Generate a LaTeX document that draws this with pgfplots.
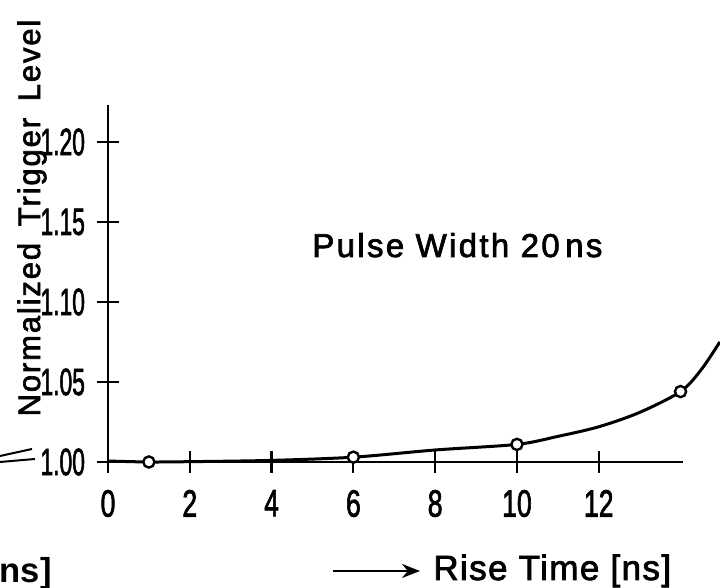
\documentclass[border=0pt]{standalone}
\usepackage{fontspec}
\setmainfont{Liberation Sans}
\usepackage{graphicx}
\usepackage{pgfplots}
\pgfplotsset{compat=1.18}
\usetikzlibrary{arrows.meta}
\newfontfamily\widefont[LetterSpace=7,FakeBold=2.2]{Liberation Sans}
\newfontfamily\widelfont[LetterSpace=6,WordSpace=1.6,FakeBold=2.2]{Liberation Sans}
\newfontfamily\midfont[LetterSpace=4,FakeBold=2.2]{Liberation Sans}
\newfontfamily\tickfont[FakeBold=2.2]{Liberation Sans}
\begin{document}
\begin{tikzpicture}
\begin{axis}[
  scale only axis, width=287.5pt, height=178.4pt,
  at={(54pt,63pt)}, anchor=south west,
  xmin=0, xmax=14.06, ymin=1.0, ymax=1.223,
  axis lines=left, axis line style={-, line width=1.2pt},
  tick align=center, major tick length=11pt,
  tick style={line width=1.1pt, black},
  xtick={0,2,4,6,8,10,12}, ytick={1.00,1.05,1.10,1.15,1.20},
  /pgf/number format/assume math mode=true,
  xticklabel={\scalebox{0.7}[1]{\pgfmathprintnumber{\tick}}},
  yticklabel={\scalebox{0.6}[1]{\pgfmathprintnumber[fixed,fixed zerofill,precision=2]{\tick}}},
  tick label style={font=\tickfont\fontsize{19}{19}\selectfont},
  xticklabel style={yshift=-5pt},
  yticklabel style={xshift=-2.5pt},
  clip=false,
]
\addplot[line width=1.5pt, smooth, tension=0.5] coordinates {
  (0,1.0006) (1,1.0) (2,1.0002) (4,1.001) (6,1.003) (8,1.0075) (10,1.011)
  (11,1.016) (12,1.022) (13,1.031) (14,1.044) (14.5,1.0575) (14.96,1.075)};
\addplot[only marks, mark=*, mark size=2.8pt,
  mark options={fill=white, draw=black, line width=1.2pt}] coordinates {
  (1,1.0) (6,1.003) (10,1.011) (14,1.044)};
\end{axis}
\node[anchor=base west, inner sep=0, font=\widefont\fontsize{16.5}{17}\selectfont] at (156pt,165.5pt) {Pulse Width 20\,ns};
\node[rotate=90, anchor=base, inner sep=0, font=\widelfont\fontsize{15.5}{17}\selectfont] at (20pt,185pt) {Normalized Trigger Level};
\node[anchor=base west, inner sep=0, font=\midfont\fontsize{17.5}{18}\selectfont] at (216.5pt,4pt) {Rise Time [ns]};
\draw[line width=1pt, -{Stealth[length=9pt,width=7pt]}] (166.5pt,8.5pt) -- (210pt,8.5pt);
\node[anchor=base east, inner sep=0, font=\fontsize{17.3}{17}\selectfont\bfseries] at (26pt,2.5pt) {ns]};
\draw[line width=1pt] (0pt,66pt) -- (16pt,69.5pt);
\draw[line width=1pt] (0pt,63pt) -- (17.5pt,64.5pt);
\pgfresetboundingbox
\path[use as bounding box] (0,0) rectangle (360pt,294pt);
\end{tikzpicture}
\end{document}
